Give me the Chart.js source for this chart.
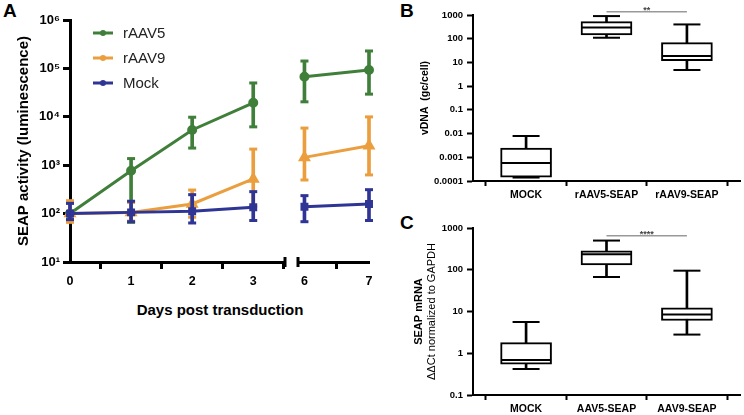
<!DOCTYPE html>
<html>
<head>
<meta charset="utf-8">
<script src="https://cdn.jsdelivr.net/npm/chart.js@4.4.0/dist/chart.umd.min.js"></script>
<style>
body { margin: 0; width: 744px; height: 415px; background: #fff; position: relative; overflow: hidden; font-family: "Liberation Sans", Arial, sans-serif; }
canvas { position: absolute; }
.letter { position: absolute; font-weight: bold; font-size: 19px; line-height: 19px; color: #000; }
.xtitle { position: absolute; font-weight: bold; font-size: 15px; line-height: 18px; text-align: center; color: #000; }
</style>
</head>
<body>
<div class="letter" style="left:3px;top:1px">A</div>
<div class="letter" style="left:400px;top:1px">B</div>
<div class="letter" style="left:400px;top:213px">C</div>
<canvas id="chartA1" style="left:0;top:0" width="290" height="300"></canvas>
<canvas id="chartA2" style="left:290px;top:0" width="90" height="300"></canvas>
<div class="xtitle" style="left:0;top:301px;width:440px">Days post transduction</div>
<canvas id="chartB" style="left:400px;top:0" width="344" height="205"></canvas>
<canvas id="chartC" style="left:400px;top:205px" width="344" height="210"></canvas>
<script>
// panel A - SEAP activity, days 0-3 before the axis break, 6-7 after it
var allDays = [0, 1, 2, 3, 6, 7];
var seriesNames = ['rAAV5', 'rAAV9', 'Mock'];
var seriesColors = ['#3f7f3a', '#eb9e3e', '#2f3594'];
var rAAV5Mean = [100, 770, 5350, 19500, 67500, 93000];
var rAAV5Low = [75, 66, 2260, 6200, 20400, 29400];
var rAAV5High = [165, 1370, 9800, 50000, 142000, 229000];
var rAAV9Mean = [100, 105, 158, 520, 1450, 2520];
var rAAV9Low = [66, 70, 84, 140, 495, 630];
var rAAV9High = [185, 170, 307, 2150, 5850, 9960];
var mockMean = [100, 106, 112, 135, 139, 158];
var mockLow = [75, 68, 64, 72, 68, 72];
var mockHigh = [163, 180, 246, 284, 235, 312];
var activityTicks = [10, 100, 1000, 10000, 100000, 1000000];
var activityTickLabels = ['10¹', '10²', '10³', '10⁴', '10⁵', '10⁶'];

// panel B - vDNA box plot
var vdnaGroups = ['MOCK', 'rAAV5-SEAP', 'rAAV9-SEAP'];
var vdnaMin = [0.00014, 110, 4.8];
var vdnaQ1 = [0.000145, 143, 11.8];
var vdnaMedian = [0.00057, 300, 18.6];
var vdnaQ3 = [0.00245, 525, 68];
var vdnaMax = [0.0079, 900, 400];
var vdnaTicks = [0.0001, 0.001, 0.01, 0.1, 1, 10, 100, 1000];
var vdnaTickLabels = ['0.0001', '0.001', '0.01', '0.1', '1', '10', '100', '1000'];
var vdnaSigPair = [1, 2];
var vdnaSigLevel = 1380;
var vdnaSigText = '**';

// panel C - SEAP mRNA box plot
var mrnaGroups = ['MOCK', 'AAV5-SEAP', 'AAV9-SEAP'];
var mrnaMin = [0.42, 67, 2.8];
var mrnaQ1 = [0.55, 131, 6.1];
var mrnaMedian = [0.69, 235, 8.5];
var mrnaQ3 = [1.8, 285, 12.3];
var mrnaMax = [5.6, 500, 95];
var mrnaTicks = [0.1, 1, 10, 100, 1000];
var mrnaTickLabels = ['0.1', '1', '10', '100', '1000'];
var mrnaSigPair = [1, 2];
var mrnaSigLevel = 650;
var mrnaSigText = '****';

var FONT = '"Liberation Sans", Arial, sans-serif';

function seriesSets(name, color, style, radius, mean, low, high, pick, order) {
    var idx = allDays.map(function(d, i) { return i; }).filter(function(i) { return pick(allDays[i]); });
    return [
        {
            type: 'line', label: name, data: idx.map(function(i) { return {x: allDays[i], y: mean[i]}; }),
            borderColor: color, backgroundColor: color, borderWidth: 3, tension: 0,
            pointStyle: style, pointRadius: radius, clip: false, order: order
        },
        {
            type: 'bar', data: idx.map(function(i) { return {x: allDays[i], y: [low[i], high[i]]}; }),
            backgroundColor: color, barThickness: 3, grouped: false, clip: false, order: order + 1
        },
        {
            type: 'scatter', data: idx.reduce(function(acc, i) {
                acc.push({x: allDays[i], y: low[i]}, {x: allDays[i], y: high[i]}); return acc;
            }, []),
            pointStyle: 'line', pointRadius: 4, borderColor: color, borderWidth: 3, clip: false, order: order + 1
        }
    ];
}

var insideLegend = {
    id: 'insideLegend',
    afterDraw: function(chart, args, opts) {
        if (!opts.show) return;
        var ctx = chart.ctx, a = chart.chartArea;
        ctx.save();
        ctx.font = '15px ' + FONT;
        ctx.textBaseline = 'middle';
        seriesNames.forEach(function(name, i) {
            var y = a.top + 13 + i * 25, x = a.left + 23;
            ctx.strokeStyle = seriesColors[i];
            ctx.lineWidth = 3;
            ctx.beginPath(); ctx.moveTo(x, y); ctx.lineTo(x + 20, y); ctx.stroke();
            ctx.fillStyle = seriesColors[i];
            ctx.beginPath(); ctx.arc(x + 10, y, 3, 0, Math.PI * 2); ctx.fill();
            ctx.fillStyle = '#222';
            ctx.fillText(name, x + 30, y + 1);
        });
        ctx.restore();
    }
};

var axisBreak = {
    id: 'axisBreak',
    afterDraw: function(chart, args, opts) {
        if (!opts.side) return;
        var ctx = chart.ctx, a = chart.chartArea;
        var x = opts.side === 'right' ? a.right : a.left;
        ctx.save();
        ctx.strokeStyle = '#000';
        ctx.lineWidth = 3;
        ctx.beginPath(); ctx.moveTo(x, a.bottom - 5); ctx.lineTo(x, a.bottom + 5); ctx.stroke();
        ctx.restore();
    }
};

var sigLabel = {
    id: 'sigLabel',
    afterDraw: function(chart, args, opts) {
        if (!opts.text) return;
        var ctx = chart.ctx;
        var x = (chart.scales.x.getPixelForValue(opts.pair[0]) + chart.scales.x.getPixelForValue(opts.pair[1])) / 2;
        var y = chart.scales.y.getPixelForValue(opts.level);
        ctx.save();
        ctx.font = 'bold 9px ' + FONT;
        ctx.fillStyle = '#444';
        ctx.textAlign = 'center';
        ctx.textBaseline = 'bottom';
        ctx.fillText(opts.text, x, y + 3);
        ctx.restore();
    }
};

var subTitle = {
    id: 'subTitle',
    afterDraw: function(chart, args, opts) {
        if (!opts.text) return;
        var ctx = chart.ctx, a = chart.chartArea;
        ctx.save();
        ctx.translate(opts.x, (a.top + a.bottom) / 2);
        ctx.rotate(-Math.PI / 2);
        ctx.font = '11px ' + FONT;
        ctx.fillStyle = '#000';
        ctx.textAlign = 'center';
        ctx.textBaseline = 'middle';
        ctx.fillText(opts.text, 0, 0);
        ctx.restore();
    }
};

Chart.register(insideLegend, axisBreak, sigLabel, subTitle);

// fixed axis sizes so the separate canvases line up
function fixX(h) {
    return function(s) { s.height = h; s.paddingLeft = 0; s.paddingRight = 0; };
}
function fixY(w) {
    return function(s) { s.width = w; s.paddingTop = 0; s.paddingBottom = 0; };
}

function makeActivityChart(id, pick, xMin, xMax, showY, padding, side) {
    var datasets = []
        .concat(seriesSets('Mock', seriesColors[2], 'rect', 3.5, mockMean, mockLow, mockHigh, pick, 0))
        .concat(seriesSets('rAAV9', seriesColors[1], 'triangle', 4.5, rAAV9Mean, rAAV9Low, rAAV9High, pick, 2))
        .concat(seriesSets('rAAV5', seriesColors[0], 'circle', 3.5, rAAV5Mean, rAAV5Low, rAAV5High, pick, 4));
    var dayTicks = allDays.filter(pick);
    return new Chart(document.getElementById(id), {
        type: 'scatter',
        data: {datasets: datasets},
        options: {
            responsive: false, animation: false, events: [],
            layout: {padding: padding, autoPadding: false},
            plugins: {
                legend: {display: false}, tooltip: {enabled: false},
                insideLegend: {show: showY}, axisBreak: {side: side}
            },
            scales: {
                x: {
                    type: 'linear', min: xMin, max: xMax, offset: false,
                    afterBuildTicks: function(s) { s.ticks = dayTicks.map(function(v) { return {value: v}; }); },
                    afterFit: fixX(38),
                    border: {display: true, width: 3, color: '#000'},
                    grid: {display: true, drawOnChartArea: false, tickLength: 7, tickWidth: 3, tickColor: '#000'},
                    ticks: {color: '#000', padding: 5, font: {family: FONT, size: 12.5, weight: 'bold'}, maxRotation: 0}
                },
                y: {
                    type: 'logarithmic', min: 10, max: 1000000, display: showY,
                    afterBuildTicks: function(s) { s.ticks = activityTicks.map(function(v) { return {value: v}; }); },
                    afterFit: fixY(showY ? 59 : 0),
                    border: {display: true, width: 3, color: '#000'},
                    grid: {display: true, drawOnChartArea: false, tickLength: 7, tickWidth: 3, tickColor: '#000'},
                    ticks: {
                        color: '#000', padding: 3, font: {family: FONT, size: 13, weight: 'bold'},
                        callback: function(v, i) { return activityTickLabels[i]; }
                    },
                    title: {display: true, text: 'SEAP activity (luminescence)', color: '#000', font: {family: FONT, size: 15, weight: 'bold'}}
                }
            }
        }
    });
}

makeActivityChart('chartA1', function(d) { return d <= 3; }, 0, 3.52, true, {left: 11, top: 20, right: 5, bottom: 0}, 'right');
makeActivityChart('chartA2', function(d) { return d >= 6; }, 5.9, 7, false, {left: 8, top: 20, right: 11, bottom: 0}, 'left');

function boxSets(mins, q1s, medians, q3s, maxs, sigPair, sigLevel) {
    var at = function(arr) { return arr.map(function(v, i) { return {x: i, y: v}; }); };
    return [
        {type: 'scatter', data: at(medians), pointStyle: 'line', pointRadius: 25, borderColor: '#000', borderWidth: 2, clip: false, order: 0},
        {type: 'scatter', data: at(mins).concat(at(maxs)), pointStyle: 'line', pointRadius: 13.5, borderColor: '#000', borderWidth: 2, clip: false, order: 0},
        {type: 'line', data: sigPair.map(function(g) { return {x: g, y: sigLevel}; }), borderColor: '#999', borderWidth: 1.5, pointRadius: 0, showLine: true, clip: false, order: 0},
        {type: 'bar', data: q1s.map(function(v, i) { return {x: i, y: [v, q3s[i]]}; }), backgroundColor: '#fff', borderColor: '#000', borderWidth: 2, borderSkipped: false, barThickness: 51, grouped: false, clip: false, order: 1},
        {type: 'bar', data: mins.map(function(v, i) { return {x: i, y: [v, maxs[i]]}; }), backgroundColor: '#000', barThickness: 2, grouped: false, clip: false, order: 2}
    ];
}

function makeBoxChart(id, groups, ticksArr, tickLabels, yMin, yMax, title, sub, sets, padding, yWidth, xHeight, sig) {
    return new Chart(document.getElementById(id), {
        type: 'scatter',
        data: {datasets: sets},
        options: {
            responsive: false, animation: false, events: [],
            layout: {padding: padding, autoPadding: false},
            plugins: {legend: {display: false}, tooltip: {enabled: false}, sigLabel: sig, subTitle: sub},
            scales: {
                x: {
                    type: 'linear', min: -0.66, max: 2.66, offset: false,
                    afterBuildTicks: function(s) { s.ticks = groups.map(function(g, i) { return {value: i}; }); },
                    afterFit: fixX(xHeight),
                    border: {display: true, width: 2, color: '#000'},
                    grid: {display: true, drawOnChartArea: false, tickLength: 5, tickWidth: 2, tickColor: '#000'},
                    ticks: {
                        color: '#000', padding: 3, maxRotation: 0, font: {family: FONT, size: 10.5, weight: 'bold'},
                        callback: function(v) { return groups[v]; }
                    }
                },
                y: {
                    type: 'logarithmic', min: yMin, max: yMax,
                    afterBuildTicks: function(s) { s.ticks = ticksArr.map(function(v) { return {value: v}; }); },
                    afterFit: fixY(yWidth),
                    border: {display: true, width: 2, color: '#000'},
                    grid: {display: true, drawOnChartArea: false, tickLength: 6, tickWidth: 2, tickColor: '#000'},
                    ticks: {
                        color: '#000', padding: 4, font: {family: FONT, size: 9.5, weight: 'bold'},
                        callback: function(v, i) { return tickLabels[i]; }
                    },
                    title: {display: true, text: title.text, color: '#000', font: {family: FONT, size: title.size, weight: 'bold'}}
                }
            }
        }
    });
}

makeBoxChart('chartB', vdnaGroups, vdnaTicks, vdnaTickLabels, 0.0001, 1000,
    {text: 'vDNA  (gc/cell)', size: 10.5}, {},
    boxSets(vdnaMin, vdnaQ1, vdnaMedian, vdnaQ3, vdnaMax, vdnaSigPair, vdnaSigLevel),
    {left: 15, top: 15, right: 4, bottom: 0}, 58, 24,
    {text: vdnaSigText, pair: vdnaSigPair, level: vdnaSigLevel});

makeBoxChart('chartC', mrnaGroups, mrnaTicks, mrnaTickLabels, 0.1, 1000,
    {text: 'SEAP mRNA', size: 11}, {text: 'ΔΔCt normalized to GAPDH', x: 32},
    boxSets(mrnaMin, mrnaQ1, mrnaMedian, mrnaQ3, mrnaMax, mrnaSigPair, mrnaSigLevel),
    {left: 8, top: 23, right: 4, bottom: 0}, 65, 20,
    {text: mrnaSigText, pair: mrnaSigPair, level: mrnaSigLevel});
</script>
</body>
</html>
